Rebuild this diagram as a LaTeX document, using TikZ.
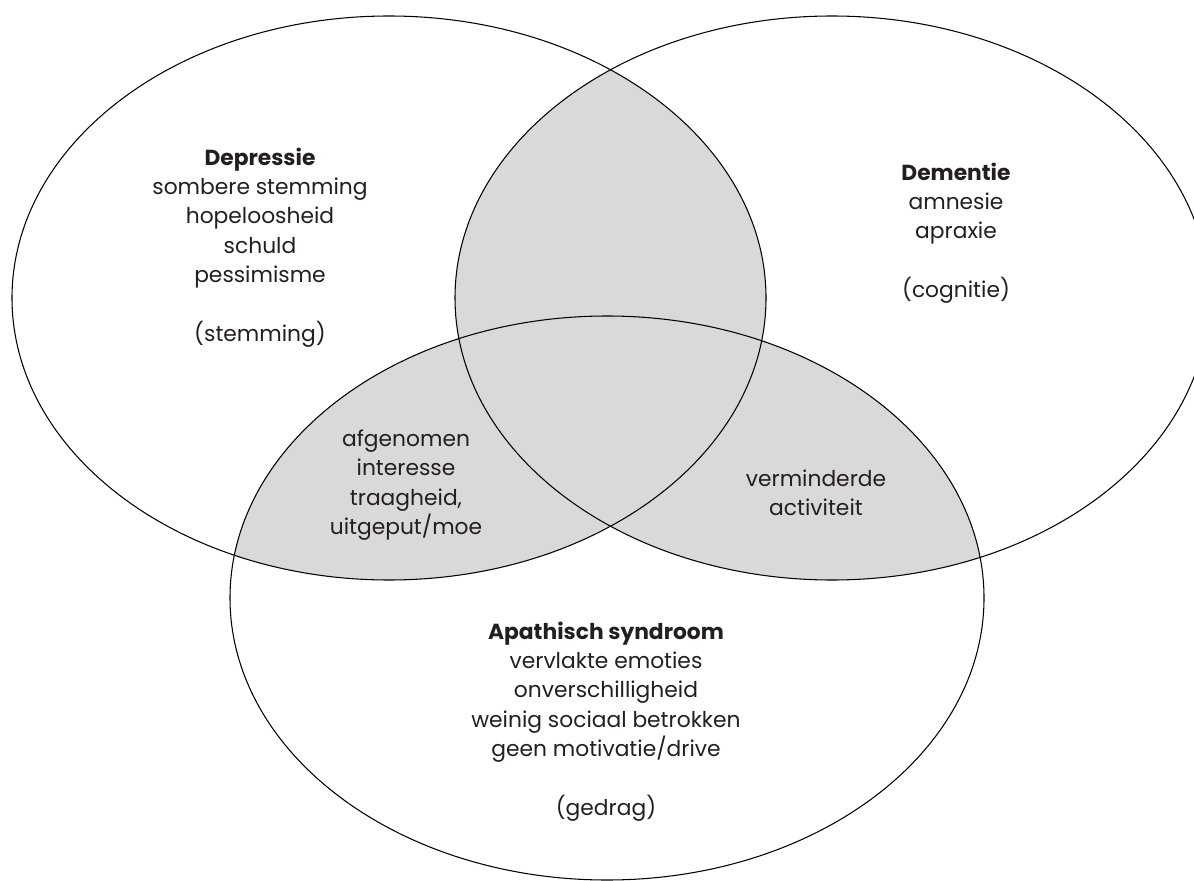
\documentclass[tikz,border=0pt]{standalone}
\usepackage{fontspec}
\setmainfont{Poppins}
\definecolor{overlapgray}{RGB}{217,217,217}
\definecolor{inkblack}{RGB}{35,31,32}

\begin{document}
\begin{tikzpicture}[
    venn/.style={draw=black, line width=0.6pt},
    vennsize/.style={x radius=7.54cm, y radius=5.64cm},
    overlapfill/.style={fill=overlapgray},
    vtext/.style={align=center, text=inkblack, inner sep=0pt,
      font=\fontsize{12.4}{16.7}\selectfont}
  ]
    % Canvas, 1194 x 880 px at 0.02cm per px
    \useasboundingbox (0,0) rectangle (23.88,17.6);
    \clip (0,0) rectangle (23.88,17.6);

    % Centres of the three ellipses
    \coordinate (cdep) at (7.78,11.64); % Depressie
    \coordinate (cdem) at (16.64,11.64); % Dementie
    \coordinate (capa) at (12.14,5.64); % Apathisch syndroom

    % Grey overlaps
    \begin{scope}
      \clip (cdep) ellipse [vennsize];
      \fill[overlapfill] (cdem) ellipse [vennsize];
      \fill[overlapfill] (capa) ellipse [vennsize];
    \end{scope}
    \begin{scope}
      \clip (cdem) ellipse [vennsize];
      \fill[overlapfill] (capa) ellipse [vennsize];
    \end{scope}

    % Outlines
    \draw[venn] (cdep) ellipse [vennsize];
    \draw[venn] (cdem) ellipse [vennsize];
    \draw[venn] (capa) ellipse [vennsize];

    % Texts
    \node[vtext] (dep) at (5.20,12.65) {\textbf{Depressie}\\ sombere stemming\\ hopeloosheid\\ schuld\\ pessimisme\\[16.7pt] (stemming)};
    \node[vtext] (dem) at (19.12,12.94) {\textbf{Dementie}\\ amnesie\\ apraxie\\[16.7pt] (cognitie)};
    \node[vtext] (depapa) at (8.12,7.90) {afgenomen\\ interesse\\ traagheid,\\ uitgeput/moe};
    \node[vtext] (demapa) at (16.32,7.75) {verminderde\\ activiteit};
    \node[vtext] (apa) at (12.12,3.17) {\textbf{Apathisch syndroom}\\ vervlakte emoties\\ onverschilligheid\\ weinig sociaal betrokken\\ geen motivatie/drive\\[16.7pt] (gedrag)};
\end{tikzpicture}
\end{document}
